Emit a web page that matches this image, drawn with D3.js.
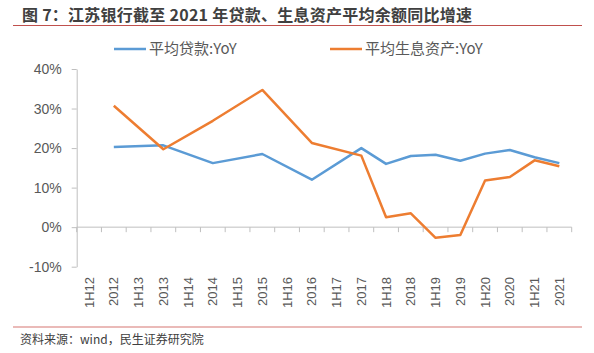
<!DOCTYPE html>
<html lang="zh">
<head>
    <meta charset="UTF-8">
    <title>江苏银行贷款、生息资产平均余额同比增速</title>
    <script src="https://d3js.org/d3.v7.min.js"></script>
    <style>
        body { margin: 0; background: #fff; }
        svg { display: block; }
        text { font-family: "Liberation Sans", "Noto Sans CJK SC", sans-serif; }
    </style>
</head>
<body>
<svg id="chart"></svg>
<script>
    const categories = ["1H12", "2012", "1H13", "2013", "1H14", "2014", "1H15", "2015", "1H16", "2016",
        "1H17", "2017", "1H18", "2018", "1H19", "2019", "1H20", "2020", "1H21", "2021"];

    // null = no data for that half year, the line just joins the neighbours
    const loanYoY = [null, 20.3, null, 20.7, null, 16.2, null, 18.5, null, 12.0,
        null, 20.0, 16.0, 18.0, 18.3, 16.8, 18.6, 19.5, 17.7, 16.2];
    const assetYoY = [null, 30.7, null, 19.7, null, 26.9, null, 34.7, null, 21.3,
        null, 18.1, 2.5, 3.5, -2.7, -2.0, 11.8, 12.7, 16.9, 15.4];

    const yTicks = [-10, 0, 10, 20, 30, 40];

    const seriesNames = ["平均贷款:YoY", "平均生息资产:YoY"];
    const seriesColors = ["#5b9bd5", "#ed7d31"];

    const width = 594, height = 353;
    const svg = d3.select("#chart").attr("width", width).attr("height", height);

    // title + red rules
    svg.append("text")
        .attr("x", 22).attr("y", 21)
        .attr("font-size", 16).attr("font-weight", "bold")
        .attr("fill", "#404040")
        .attr("textLength", 450).attr("lengthAdjust", "spacing")
        .style("font-family", "'Noto Sans CJK SC', sans-serif")
        .text("图 7：江苏银行截至 2021 年贷款、生息资产平均余额同比增速");
    svg.append("line").attr("x1", 13).attr("x2", 582).attr("y1", 25.5).attr("y2", 25.5)
        .attr("stroke", "#c0504d").attr("stroke-width", 1);
    svg.append("line").attr("x1", 13).attr("x2", 582).attr("y1", 327).attr("y2", 327)
        .attr("stroke", "#e3a3a1").attr("stroke-width", 1.5);
    svg.append("text")
        .attr("x", 20).attr("y", 344)
        .attr("font-size", 12).attr("fill", "#404040")
        .style("font-family", "'Noto Sans CJK SC', sans-serif")
        .text("资料来源：wind，民生证券研究院");

    const x = d3.scaleBand().domain(categories).range([76.7, 571.7]).padding(0);
    const y = d3.scaleLinear().domain([-10, 40]).range([266.7, 69]);
    const cx = c => x(c) + x.bandwidth() / 2;

    // y axis
    const yAxis = svg.append("g")
        .attr("transform", "translate(76.7,0)")
        .call(d3.axisLeft(y).tickValues(yTicks).tickSize(5).tickSizeOuter(0)
            .tickFormat(d => d + "%"));
    yAxis.select(".domain").attr("stroke", "#bfbfbf");
    yAxis.selectAll(".tick line").attr("stroke", "#bfbfbf");
    yAxis.selectAll(".tick text").attr("font-size", 14).attr("fill", "#595959")
        .attr("x", -15).style("font-family", "'Liberation Sans', sans-serif");

    // x axis on the zero line, ticks between categories
    const xAxis = svg.append("g").attr("transform", "translate(0," + y(0) + ")");
    xAxis.append("line").attr("x1", x.range()[0]).attr("x2", x.range()[1])
        .attr("stroke", "#bfbfbf");
    xAxis.selectAll(".xtick")
        .data(categories.map(c => x(c)).concat([x.range()[1]]))
        .enter().append("line")
        .attr("x1", d => d).attr("x2", d => d)
        .attr("y1", 0).attr("y2", 5)
        .attr("stroke", "#bfbfbf");

    svg.selectAll(".xlabel")
        .data(categories)
        .enter().append("text")
        .attr("transform", d => "translate(" + (cx(d) + 4.5) + ",277) rotate(-90)")
        .attr("text-anchor", "end")
        .attr("font-size", 13)
        .attr("fill", "#595959")
        .text(d => d);

    // lines
    const line = d3.line()
        .x(d => cx(d.cat))
        .y(d => y(d.v));

    [loanYoY, assetYoY].forEach(function (vals, i) {
        const pts = categories.map((c, j) => ({cat: c, v: vals[j]})).filter(d => d.v !== null);
        svg.append("path")
            .datum(pts)
            .attr("d", line)
            .attr("fill", "none")
            .attr("stroke", seriesColors[i])
            .attr("stroke-width", 2.5)
            .attr("stroke-linejoin", "round");
    });

    // legend
    const legendX = [114, 330];
    seriesNames.forEach(function (name, i) {
        svg.append("line")
            .attr("x1", legendX[i]).attr("x2", legendX[i] + 32)
            .attr("y1", 49).attr("y2", 49)
            .attr("stroke", seriesColors[i]).attr("stroke-width", 2.5);
        svg.append("text")
            .attr("x", legendX[i] + 35).attr("y", 54)
            .attr("font-size", 15).attr("fill", "#595959")
            .style("font-family", "'Noto Sans CJK SC', sans-serif")
            .text(name);
    });
</script>
</body>
</html>
